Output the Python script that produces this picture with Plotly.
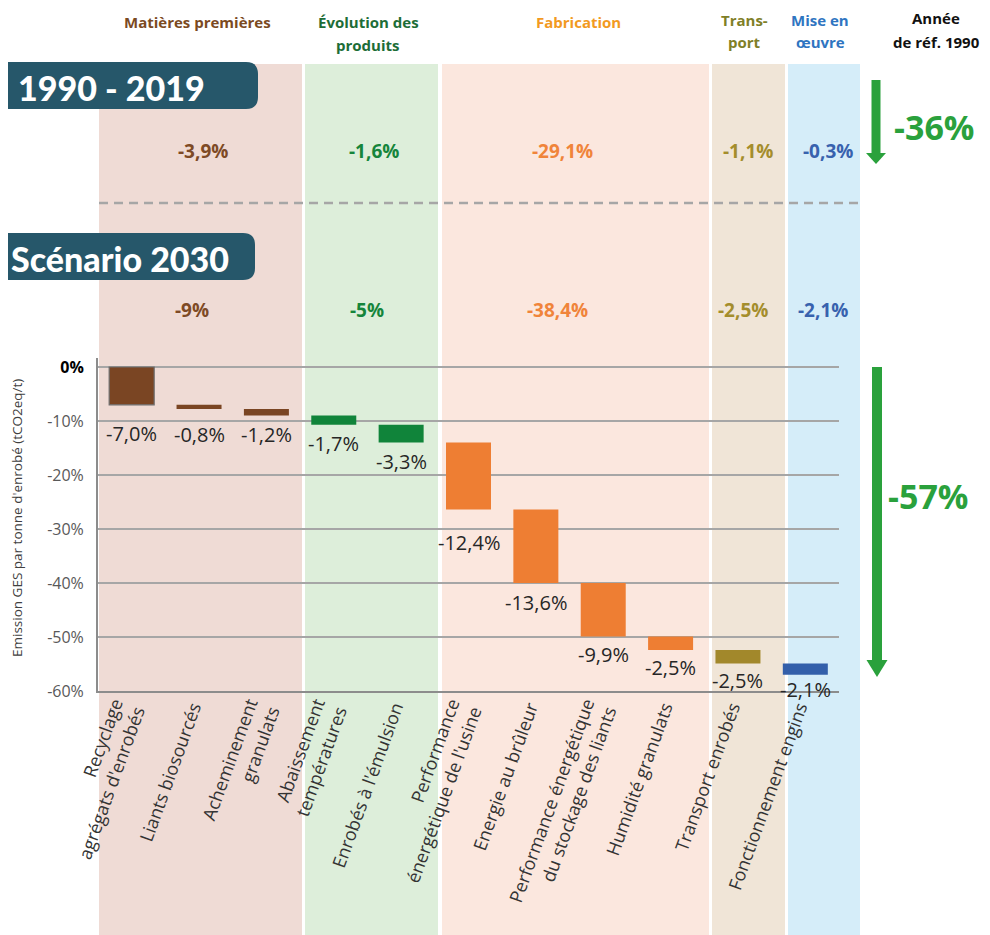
import plotly.graph_objects as go

# ---------------- data ----------------
categories = [
    "Recyclage<br>agrégats d'enrobés",
    "Liants biosourcés",
    "Acheminement<br>granulats",
    "Abaissement<br>températures",
    "Enrobés à l'émulsion",
    "Performance<br>énergétique de l'usine",
    "Energie au brûleur",
    "Performance énergétique<br>du stockage des liants",
    "Humidité granulats",
    "Transport enrobés",
    "Fonctionnement engins",
]
values = [-7.0, -0.8, -1.2, -1.7, -3.3, -12.4, -13.6, -9.9, -2.5, -2.5, -2.1]
value_labels = ["-7,0%", "-0,8%", "-1,2%", "-1,7%", "-3,3%", "-12,4%", "-13,6%",
                "-9,9%", "-2,5%", "-2,5%", "-2,1%"]
group_of = [0, 0, 0, 1, 1, 2, 2, 2, 2, 3, 4]

groups = ["Matières premières", "Évolution des<br>produits", "Fabrication",
          "Trans-<br>port", "Mise en<br>œuvre"]
period_1990_2019 = ["-3,9%", "-1,6%", "-29,1%", "-1,1%", "-0,3%"]
scenario_2030 = ["-9%", "-5%", "-38,4%", "-2,5%", "-2,1%"]
total_1990_2019 = "-36%"
total_2030 = "-57%"

y_ticks = [0, -10, -20, -30, -40, -50, -60]
y_ticktext = ["<b><span style='color:#000000'>0%</span></b>", "-10%", "-20%", "-30%",
              "-40%", "-50%", "-60%"]

# ---------------- styles ----------------
OFF = 8                      # page body margin
W, H = 990 - OFF, 935 - OFF  # figure size
L, R, T, B = 98, 839, 358, 691   # plot area in page coordinates

bar_colors = ["#7A4523", "#10843A", "#EE7E33", "#A2882B", "#335FAA"]
band_colors = ["#EFDBD5", "#DDEEDA", "#FBE7DE", "#F0E5D7", "#D5EDF9"]
header_colors = ["#7B4A1F", "#1D6D37", "#F29A1F", "#7F7F28", "#2F75C1"]
value_colors = ["#7E4A25", "#15853B", "#F0843A", "#A48D2C", "#3862AE"]
band_px = [(99, 302), (305, 438), (442, 709), (712, 785), (788, 860)]
header_cx = [197, 368, 578, 744, 820]
header_y = [[22], [22, 45], [22], [20, 42], [20, 42]]
row1_cx = [203, 374, 562, 748, 828]
row2_cx = [192, 367, 557, 743, 823]
label_yshift = [-13, -10, -3, -3, -3, -17, -4, -3, -2, -2, 1]
banner = "#26576A"
arrow_green = "#2AA13C"


def px(x):
    return (x - L) / (R - L)


def py(y):
    return (B - y) / (B - T)


# cumulative bases for waterfall
bases = []
run = 0.0
for v in values:
    bases.append(run)
    run += v
ends = [b + v for b, v in zip(bases, values)]

fig = go.Figure()
fig.add_trace(go.Bar(
    x=categories,
    y=values,
    base=bases,
    width=0.668,
    marker=dict(
        color=[bar_colors[g] for g in group_of],
        line=dict(color=["#6E6E6E"] + [bar_colors[g] for g in group_of[1:]],
                  width=[1.2] + [0] * (len(values) - 1)),
    ),
    hoverinfo="skip",
    showlegend=False,
))

shapes = []
annotations = []

# background bands
for (x0, x1), c in zip(band_px, band_colors):
    shapes.append(dict(type="rect", xref="paper", yref="paper",
                       x0=px(x0), x1=px(x1), y0=py(64), y1=py(940),
                       fillcolor=c, line=dict(width=0), layer="below"))

# dashed separator
shapes.append(dict(type="line", xref="paper", yref="paper",
                   x0=px(99), x1=px(860), y0=py(203), y1=py(203),
                   line=dict(color="#A6A6A6", width=2.5, dash="9px,6px"), layer="above"))


def banner_path(x0, x1, y0, y1, r=12):
    return (f"M {px(x0)},{py(y0)} L {px(x1 - r)},{py(y0)} "
            f"Q {px(x1)},{py(y0)} {px(x1)},{py(y0 + r)} "
            f"L {px(x1)},{py(y1 - r)} Q {px(x1)},{py(y1)} {px(x1 - r)},{py(y1)} "
            f"L {px(x0)},{py(y1)} Z")


shapes.append(dict(type="path", xref="paper", yref="paper",
                   path=banner_path(-20, 258, 62, 109), fillcolor=banner,
                   line=dict(width=0), layer="above"))
shapes.append(dict(type="path", xref="paper", yref="paper",
                   path=banner_path(-20, 255, 233, 280), fillcolor=banner,
                   line=dict(width=0), layer="above"))

annotations.append(dict(xref="paper", yref="paper", x=px(16), y=py(87),
                        xanchor="left", yanchor="middle", showarrow=False,
                        text="1990 - 2019",
                        font=dict(family="Lato", size=34, color="white", weight=900)))
annotations.append(dict(xref="paper", yref="paper", x=px(9), y=py(258),
                        xanchor="left", yanchor="middle", showarrow=False,
                        text="Scénario 2030",
                        font=dict(family="Lato", size=34, color="white", weight=900)))


# arrows
def arrow(cx, shaft_w, head_w, y0, yhead, ytip):
    shapes.append(dict(type="rect", xref="paper", yref="paper",
                       x0=px(cx - shaft_w / 2), x1=px(cx + shaft_w / 2),
                       y0=py(yhead), y1=py(y0), fillcolor=arrow_green,
                       line=dict(width=0), layer="above"))
    shapes.append(dict(type="path", xref="paper", yref="paper",
                       path=(f"M {px(cx - head_w / 2)},{py(yhead)} "
                             f"L {px(cx + head_w / 2)},{py(yhead)} "
                             f"L {px(cx)},{py(ytip)} Z"),
                       fillcolor=arrow_green, line=dict(width=0), layer="above"))


arrow(876, 9, 20, 80, 153, 164)
arrow(877, 10, 21, 367, 660, 677)

annotations.append(dict(xref="paper", yref="paper", x=px(934), y=py(127),
                        xanchor="center", yanchor="middle", showarrow=False,
                        text=f"<b>{total_1990_2019}</b>",
                        font=dict(family="Open Sans", size=34, color=arrow_green)))
annotations.append(dict(xref="paper", yref="paper", x=px(928), y=py(496),
                        xanchor="center", yanchor="middle", showarrow=False,
                        text=f"<b>{total_2030}</b>",
                        font=dict(family="Open Sans", size=34, color=arrow_green)))

# headers
for g, name in enumerate(groups):
    for line, yy in zip(name.split("<br>"), header_y[g]):
        annotations.append(dict(xref="paper", yref="paper", x=px(header_cx[g]), y=py(yy),
                                xanchor="center", yanchor="middle", showarrow=False,
                                text=f"<b>{line}</b>",
                                font=dict(family="Open Sans", size=15,
                                          color=header_colors[g])))
for line, yy in zip(["Année", "de réf. 1990"], [18, 42]):
    annotations.append(dict(xref="paper", yref="paper", x=px(936), y=py(yy),
                            xanchor="center", yanchor="middle", showarrow=False,
                            text=f"<b>{line}</b>",
                            font=dict(family="Open Sans", size=15, color="#111111")))

# section values
for g in range(len(groups)):
    annotations.append(dict(xref="paper", yref="paper", x=px(row1_cx[g]), y=py(151),
                            xanchor="center", yanchor="middle", showarrow=False,
                            text=f"<b>{period_1990_2019[g]}</b>",
                            font=dict(family="Open Sans", size=19, color=value_colors[g])))
    annotations.append(dict(xref="paper", yref="paper", x=px(row2_cx[g]), y=py(310),
                            xanchor="center", yanchor="middle", showarrow=False,
                            text=f"<b>{scenario_2030[g]}</b>",
                            font=dict(family="Open Sans", size=19, color=value_colors[g])))

# bar value labels
for i, (c, e, t) in enumerate(zip(categories, ends, value_labels)):
    annotations.append(dict(x=c, y=e, xref="x", yref="y", xanchor="center",
                            yanchor="top", yshift=label_yshift[i], showarrow=False,
                            text=t, font=dict(family="Open Sans", size=20, color="#262626")))

# y-axis title
annotations.append(dict(xref="paper", yref="paper", x=px(17), y=py(518),
                        xanchor="center", yanchor="middle", showarrow=False,
                        textangle=-90,
                        text="Emission GES par tonne d'enrobé (tCO2eq/t)",
                        font=dict(family="Open Sans", size=13.5, color="#404040")))

fig.update_layout(
    width=W, height=H,
    margin=dict(l=L - OFF, r=W - (R - OFF), t=T - OFF, b=H - (B - OFF), pad=0),
    paper_bgcolor="white",
    plot_bgcolor="rgba(0,0,0,0)",
    shapes=shapes,
    annotations=annotations,
    xaxis=dict(
        range=[-0.5, len(categories) - 0.5],
        tickangle=-70,
        tickfont=dict(family="Open Sans", size=18, color="#333333"),
        showgrid=False,
        showline=True, linecolor="#8C8C8C", linewidth=2,
        ticks="", ticklen=0,
        ticklabelshift=-6, ticklabelstandoff=-3,
        automargin=False,
    ),
    yaxis=dict(
        range=[-60, 1.667],
        tickvals=y_ticks,
        ticktext=y_ticktext,
        tickfont=dict(family="Open Sans", size=16, color="#595959"),
        showgrid=True, gridcolor="#A6A6A6", gridwidth=2,
        zeroline=False,
        showline=True, linecolor="#8C8C8C", linewidth=2,
        ticks="", ticklabelstandoff=9,
        automargin=False,
    ),
)

fig.write_html("out.html")
